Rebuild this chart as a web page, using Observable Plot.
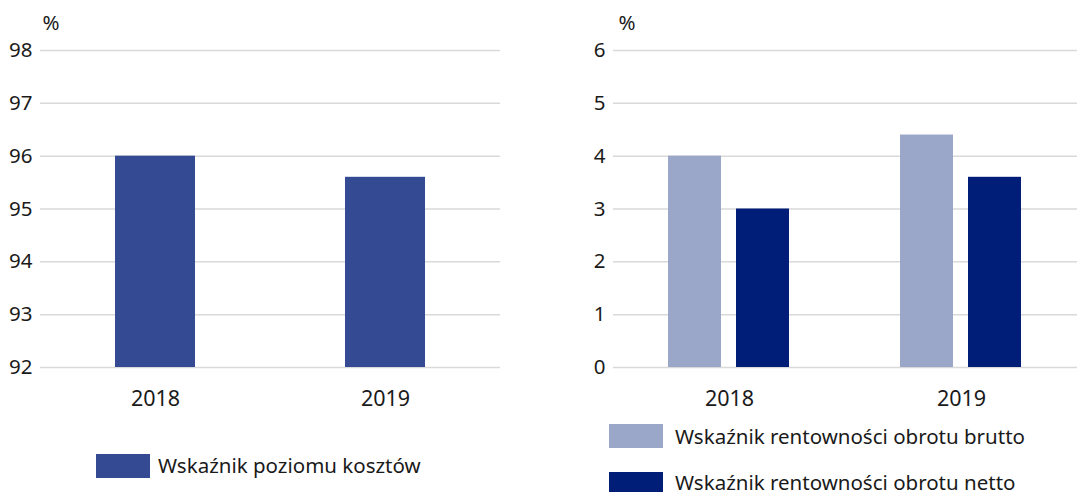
<!DOCTYPE html>
<html>
<head>
<meta charset="utf-8">
<script src="https://cdn.jsdelivr.net/npm/d3@7"></script>
<script src="https://cdn.jsdelivr.net/npm/@observablehq/plot@0.6"></script>
<style>
  body { margin: 0; background: #fff; font-family: "Noto Sans", sans-serif; color: #1a1a1a; }
  #wrap { position: relative; width: 1077px; height: 492px; overflow: hidden; }
  .chart { position: absolute; top: 0; }
  .sw { position: absolute; width: 54px; height: 24px; }
  .lt { position: absolute; font-size: 20.5px; line-height: 1; white-space: nowrap; color: #1a1a1a; }
</style>
</head>
<body>
<div id="wrap">
  <div id="left" class="chart" style="left:0"></div>
  <div id="right" class="chart" style="left:540px"></div>
</div>
<script>
const years = ["2018", "2019"];
const costLevel = [96.0, 95.6];
const grossProfit = [4.0, 4.4];
const netProfit = [3.0, 3.6];
const leftTicks = [92, 93, 94, 95, 96, 97, 98];
const rightTicks = [0, 1, 2, 3, 4, 5, 6];
const seriesNames = ["Wskaźnik rentowności obrotu brutto", "Wskaźnik rentowności obrotu netto"];
const leftName = "Wskaźnik poziomu kosztów";
const colors = { cost: "#344a93", gross: "#9aa7c9", net: "#001e78" };

const fontStyle = { fontFamily: "Noto Sans, sans-serif", color: "#1a1a1a", background: "transparent" };
const fmt = d3.format("d");

const leftData = years.map((y, i) => ({ year: y, value: costLevel[i] }));
const left = Plot.plot({
  width: 540, height: 420,
  marginLeft: 40, marginRight: 40, marginTop: 50, marginBottom: 53,
  style: fontStyle,
  x: { domain: years, paddingInner: 0.652, paddingOuter: 0.326, label: null },
  y: { domain: [92, 98], label: null },
  marks: [
    Plot.gridY(leftTicks, { stroke: "#d9d9d9", strokeOpacity: 1, strokeWidth: 1.5 }),
    Plot.barY(leftData, { x: "year", y1: 92, y2: "value", fill: colors.cost }),
    Plot.axisY(leftTicks, { tickSize: 0, tickPadding: 8, label: null, fontSize: 20.5, tickFormat: fmt }),
    Plot.axisX({ tickSize: 0, tickPadding: 23, label: null, fontSize: 21.5 }),
    Plot.text(["%"], { text: d => d, frameAnchor: "top-left", lineAnchor: "middle", dx: 2, dy: -27.5, fontSize: 20.5, textAnchor: "start" })
  ]
});
document.getElementById("left").appendChild(left);

const rightData = [];
years.forEach((y, i) => {
  rightData.push({ year: y, series: seriesNames[0], value: grossProfit[i] });
  rightData.push({ year: y, series: seriesNames[1], value: netProfit[i] });
});
const right = Plot.plot({
  width: 537, height: 420,
  marginLeft: 73, marginRight: 0, marginTop: 50, marginBottom: 53,
  style: fontStyle,
  fx: { domain: years, padding: 0, label: null, axis: null },
  x: { domain: seriesNames, axis: null, paddingInner: 0.217, paddingOuter: 0.79 },
  y: { domain: [0, 6], label: null },
  color: { domain: seriesNames, range: [colors.gross, colors.net] },
  marks: [
    Plot.gridY(rightTicks, { stroke: "#d9d9d9", strokeOpacity: 1, strokeWidth: 1.5 }),
    Plot.barY(rightData, { fx: "year", x: "series", y: "value", fill: "series" }),
    Plot.axisY(rightTicks, { tickSize: 0, tickPadding: 8, label: null, fontSize: 20.5, tickFormat: fmt }),
    Plot.axisFx({ tickSize: 0, tickPadding: 23, label: null, fontSize: 21.5, anchor: "bottom" }),
    Plot.text(["%"], { text: d => d, frameAnchor: "top-left", lineAnchor: "middle", dx: 5, dy: -27.5, fontSize: 20.5, textAnchor: "start", facet: "super" })
  ]
});
document.getElementById("right").appendChild(right);

// legends
const wrap = document.getElementById("wrap");
function legend(name, color, sx, sy, tx, ty) {
  const s = document.createElement("div");
  s.className = "sw";
  s.style.left = sx + "px";
  s.style.top = sy + "px";
  s.style.background = color;
  const t = document.createElement("div");
  t.className = "lt";
  t.style.left = tx + "px";
  t.style.top = ty + "px";
  t.textContent = name;
  wrap.appendChild(s); wrap.appendChild(t);
}
legend(leftName, colors.cost, 96, 454, 158, 455);
legend(seriesNames[0], colors.gross, 609, 424, 675, 426);
legend(seriesNames[1], colors.net, 609, 472, 675, 471.5);
</script>
</body>
</html>
